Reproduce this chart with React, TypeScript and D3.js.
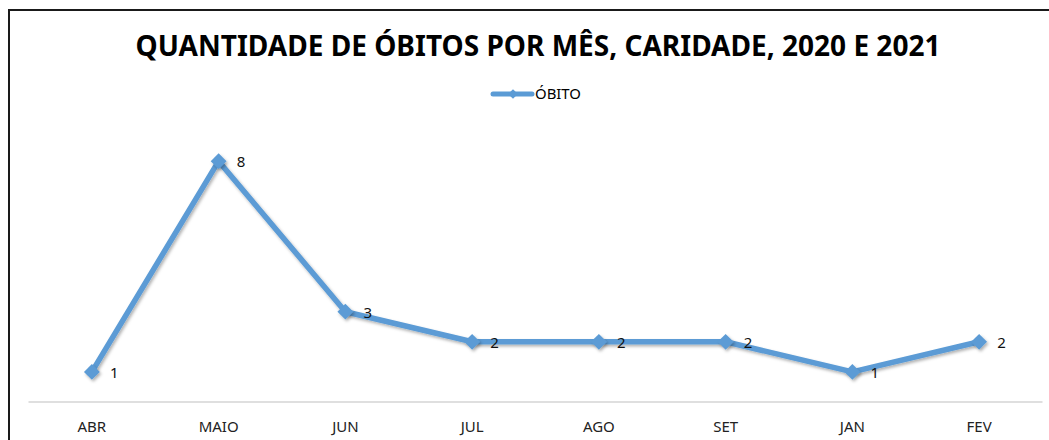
import { useRef, useEffect } from "react";
import * as d3 from "d3";

const meses = ["ABR", "MAIO", "JUN", "JUL", "AGO", "SET", "JAN", "FEV"];
const obitos = [1, 8, 3, 2, 2, 2, 1, 2];
const titulo = "QUANTIDADE DE ÓBITOS POR MÊS, CARIDADE, 2020 E 2021";
const serie = "ÓBITO";

function drawChart(svgRef) {
    const width = 1049,
        height = 440;
    const azul = "#5B9BD5";
    const fonte = "'Noto Sans', 'Open Sans', sans-serif";

    let svg = d3.select(svgRef.current);
    svg.selectAll("*").remove();
    svg.attr("width", width).attr("height", height);

    const defs = svg.append("defs");
    const f = defs.append("filter").attr("id", "sombra")
        .attr("x", "-50%").attr("y", "-50%").attr("width", "200%").attr("height", "200%");
    f.append("feDropShadow").attr("dx", 1.5).attr("dy", 2).attr("stdDeviation", 1.5)
        .attr("flood-color", "#000").attr("flood-opacity", 0.3);

    svg.append("rect").attr("width", width).attr("height", height).attr("fill", "#fff");

    // moldura
    svg.append("path")
        .attr("d", "M9,441 L9,10 L1050,10")
        .attr("fill", "none").attr("stroke", "#1a1a1a").attr("stroke-width", 2);

    svg.append("text")
        .attr("x", 538).attr("y", 56)
        .attr("text-anchor", "middle")
        .attr("font-family", fonte).attr("font-weight", "bold")
        .attr("font-size", 28)
        .attr("textLength", 805).attr("lengthAdjust", "spacingAndGlyphs")
        .attr("fill", "#000")
        .text(titulo);

    const x = d3.scaleBand().domain(meses).range([28.5, 1042.5]);
    const y = d3.scaleLinear().domain([0, 10]).range([402, 101]);

    // legenda
    const leg = svg.append("g").attr("transform", "translate(493,94)");
    leg.append("line").attr("x1", 0).attr("x2", 39).attr("y1", 0).attr("y2", 0)
        .attr("stroke", azul).attr("stroke-width", 5).attr("stroke-linecap", "round");
    leg.append("path").attr("d", d3.symbol(d3.symbolDiamond2, 60)())
        .attr("transform", "translate(20,0)").attr("fill", azul);
    leg.append("text").attr("x", 42).attr("y", 5)
        .attr("font-family", fonte).attr("font-size", 15)
        .attr("textLength", 46).attr("lengthAdjust", "spacingAndGlyphs")
        .attr("fill", "#000").text(serie);

    // eixo
    svg.append("line")
        .attr("x1", x.range()[0]).attr("x2", x.range()[1])
        .attr("y1", y(0)).attr("y2", y(0))
        .attr("stroke", "#bfbfbf").attr("stroke-width", 1);

    svg.append("g").selectAll("text")
        .data(meses)
        .join("text")
        .attr("x", d => x(d) + x.bandwidth() / 2)
        .attr("y", 432)
        .attr("text-anchor", "middle")
        .attr("font-family", fonte).attr("font-size", 15)
        .attr("fill", "#222")
        .text(d => d);

    const dados = meses.map((m, i) => ({ mes: m, valor: obitos[i] }));
    const cx = d => x(d.mes) + x.bandwidth() / 2;

    const linha = d3.line().x(cx).y(d => y(d.valor));

    svg.append("path")
        .datum(dados)
        .attr("d", linha)
        .attr("fill", "none")
        .attr("stroke", azul)
        .attr("stroke-width", 5.5)
        .attr("stroke-linejoin", "round")
        .attr("filter", "url(#sombra)");

    svg.append("g").selectAll("path")
        .data(dados)
        .join("path")
        .attr("d", d3.symbol(d3.symbolDiamond2, 160)())
        .attr("transform", d => `translate(${cx(d)},${y(d.valor)})`)
        .attr("fill", azul)
        .attr("filter", "url(#sombra)");

    svg.append("g").selectAll("text")
        .data(dados)
        .join("text")
        .attr("x", d => cx(d) + 18)
        .attr("y", d => y(d.valor) + 6)
        .attr("font-family", fonte).attr("font-size", 15)
        .attr("fill", "#111")
        .text(d => d.valor);
}

export default function App() {
    const svg = useRef(null);
    useEffect(() => {
        drawChart(svg);
    }, [svg]);

    return <svg ref={svg} style={{ position: "absolute", left: 0, top: 0, display: "block" }} />;
}
